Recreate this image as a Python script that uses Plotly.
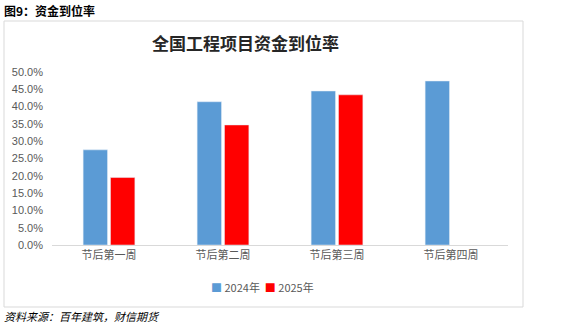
import plotly.graph_objects as go

# Weekly funding-in-place rate of national construction projects after the holiday
weeks = ["节后第一周", "节后第二周", "节后第三周", "节后第四周"]
rate_2024 = [0.275, 0.414, 0.445, 0.474]
rate_2025 = [0.195, 0.347, 0.434, None]
y_ticks = [0, 0.05, 0.10, 0.15, 0.20, 0.25, 0.30, 0.35, 0.40, 0.45, 0.50]
series_names = ["2024年", "2025年"]
series_colors = ["#5B9BD5", "#FF0000"]

W, H = 564, 324
L, R, T, B = 52, 508, 72, 245  # plot area in pixels


def px(x):
    return (x - L) / (R - L)


def py(y):
    return (B - y) / (B - T)


CJK = "Noto Sans CJK SC"
GREY = "#595959"

fig = go.Figure()
for name, vals, col in zip(series_names, [rate_2024, rate_2025], series_colors):
    fig.add_trace(go.Bar(name=name, x=weeks, y=vals, marker_color=col))

fig.update_layout(
    width=W, height=H,
    margin=dict(l=L, r=W - R, t=T, b=H - B),
    paper_bgcolor="white", plot_bgcolor="white",
    barmode="group", bargap=0.52, bargroupgap=0.11,
    font=dict(family=CJK, size=11, color=GREY),
    showlegend=False,
    xaxis=dict(showline=True, linecolor="#D9D9D9", linewidth=1, ticks="",
               tickfont=dict(size=11, color=GREY), showgrid=False),
    yaxis=dict(range=[0, 0.5], tickvals=y_ticks, tickformat=".1%", showgrid=False,
               zeroline=False, showline=False, ticklabelstandoff=8,
               tickfont=dict(family="Liberation Sans", size=11, color=GREY)),
)

# compact legend row below the axis
legend_text = "  ".join(
    f'<span style="color:{c}">■</span> {n}' for n, c in zip(series_names, series_colors)
)
fig.add_annotation(text=legend_text, xref="paper", yref="paper",
                   x=px(262), y=py(287), xanchor="center", yanchor="middle", showarrow=False,
                   font=dict(family=CJK, size=11, color=GREY))

# chart frame
fig.add_shape(type="rect", xref="paper", yref="paper",
              x0=px(4), x1=px(523), y0=py(307), y1=py(21),
              line=dict(color="#D9D9D9", width=1), layer="below")

fig.add_annotation(text="<b>全国工程项目资金到位率</b>", xref="paper", yref="paper",
                   x=px(245), y=py(42), xanchor="center", yanchor="middle", showarrow=False,
                   font=dict(family=CJK, size=17, color="#262626"))
fig.add_annotation(text="<b>图9：资金到位率</b>", xref="paper", yref="paper",
                   x=px(2), y=py(11), xanchor="left", yanchor="middle", showarrow=False,
                   font=dict(family=CJK, size=12, color="black"))
fig.add_annotation(text="<i>资料来源：百年建筑，财信期货</i>", xref="paper", yref="paper",
                   x=px(2), y=py(316), xanchor="left", yanchor="middle", showarrow=False,
                   font=dict(family=CJK, size=11, color="black"))

fig.write_html("out.html")
